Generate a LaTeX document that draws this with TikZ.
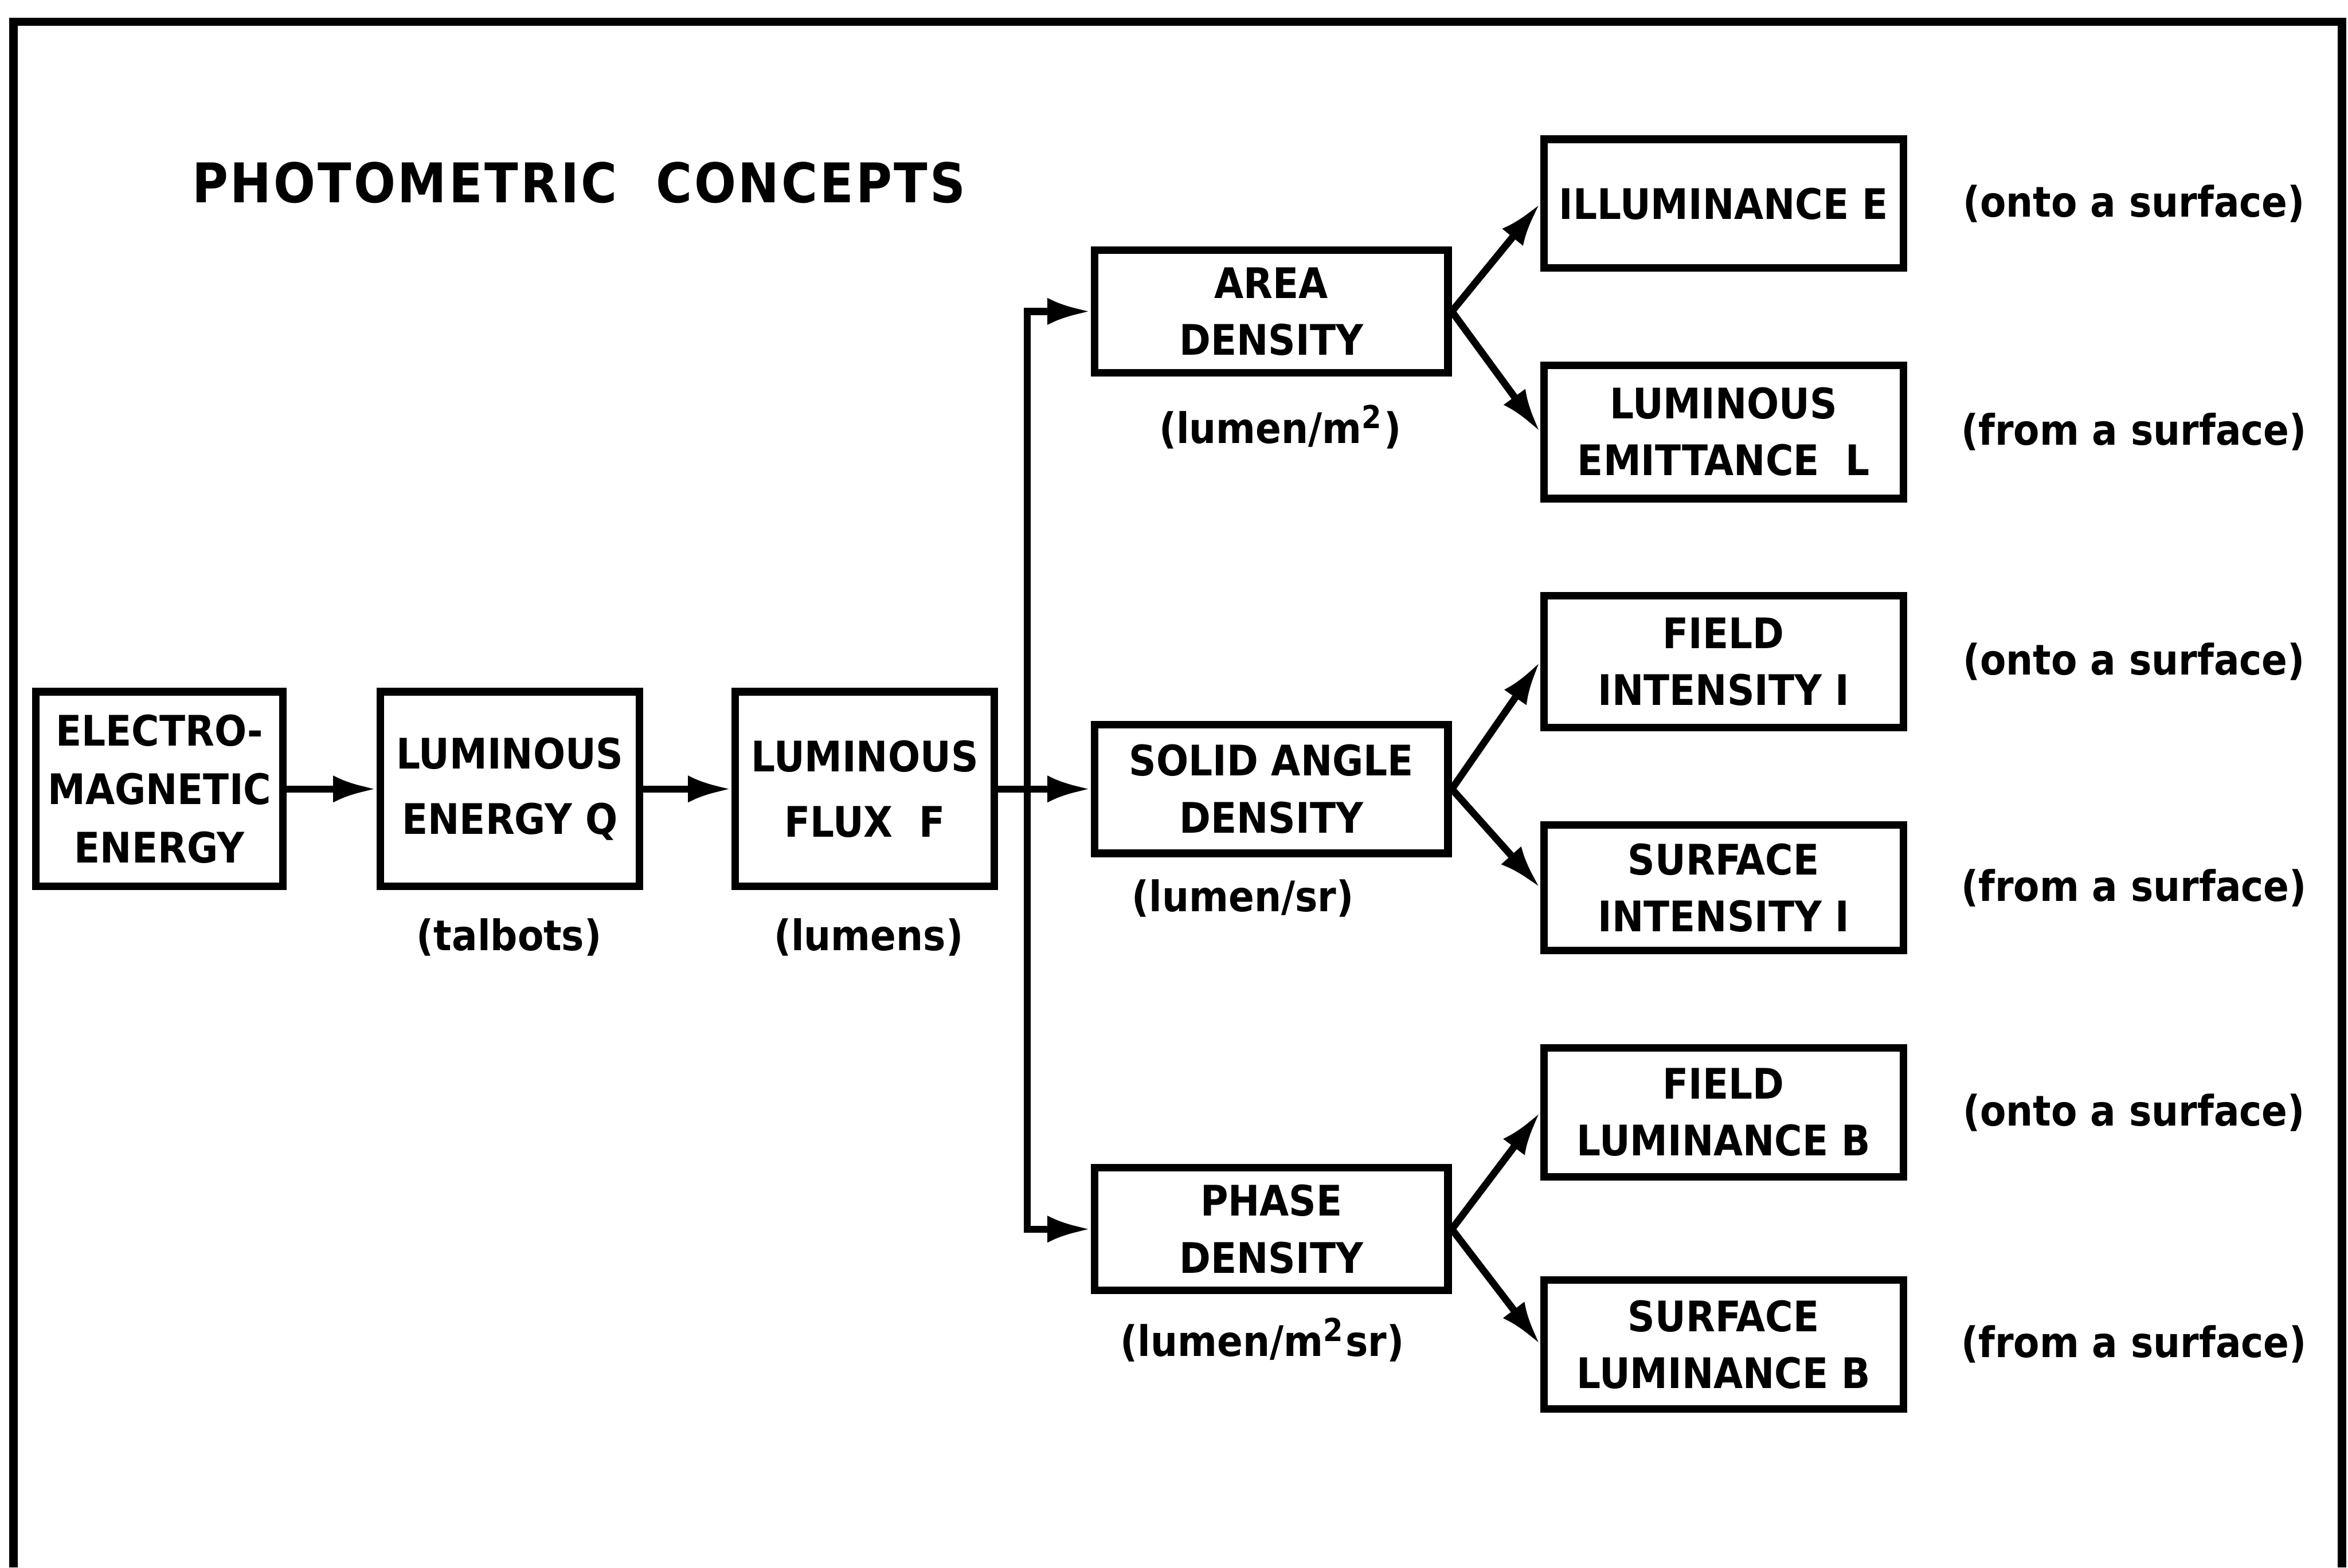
\documentclass[tikz,border=0pt]{standalone}
\usepackage{fontspec}
\setmainfont{DejaVu Sans}
\newfontfamily\lettering{DejaVu Sans Condensed}
\newfontfamily\titlelettering{DejaVu Sans Condensed}[LetterSpace=4]
\usetikzlibrary{arrows.meta, positioning}

\begin{document}
\begin{tikzpicture}[
  block/.style={draw, line width=1.45pt, align=center, inner sep=0pt,
                font=\lettering\bfseries\fontsize{8}{10.8}\selectfont},
  unit/.style={font=\lettering\bfseries\fontsize{8}{10}\selectfont},
  title/.style={font=\titlelettering\bfseries\fontsize{10.4}{12}\selectfont},
  arr/.style={line width=1.35pt, -{Latex[length=2.9mm, width=1.8mm]}},
  frame/.style={line width=1.6pt}
]

\useasboundingbox (0,0) rectangle (15.68,-10.47);

\def\colD{8.49}   % x of density column
\def\colO{11.51}  % x of output column
\def\colU{14.25}  % x of surface notes

% --- Frame (open at the bottom) ---
\draw[frame] (0.09,-10.47) -- (0.09,-0.145) -- (15.64,-0.145) -- (15.64,-10.47);

% --- Title ---
\node[title] (T) at (3.865,-1.22) {PHOTOMETRIC\ \ CONCEPTS};

% --- Source chain ---
\node[block, minimum width=1.65cm, minimum height=1.30cm] (EM) at (1.065,-5.27)
  {ELECTRO-\\[0.3pt]MAGNETIC\\[0.3pt]ENERGY};
\node[block, minimum width=1.73cm, minimum height=1.30cm] (LQ) at (3.405,-5.27)
  {LUMINOUS\\[1.7pt]ENERGY Q};
\node[block, minimum width=1.73cm, minimum height=1.30cm] (LF) at (5.775,-5.27)
  {LUMINOUS\\[1.7pt]FLUX\ \ F};

\node[unit] (LQu) at (3.40,-6.26) {(talbots)};
\node[unit] (LFu) at (5.80,-6.26) {(lumens)};

% --- Density column ---
\foreach \n/\y/\h/\txt in {AD/-2.08/0.82/{AREA\\DENSITY},
                           SAD/-5.27/0.86/{SOLID ANGLE\\DENSITY},
                           PD/-8.21/0.82/{PHASE\\DENSITY}}{
  \node[block, minimum width=2.36cm, minimum height=\h cm] (\n) at (\colD,\y) {\txt};
}

\node[unit] (ADu) at (8.55,-2.85) {(lumen/m\textsuperscript{2})};
\node[unit] (SADu) at (8.30,-6.00) {(lumen/sr)};
\node[unit] (PDu) at (8.43,-8.95) {(lumen/m\textsuperscript{2}sr)};

% --- Output column + surface notes ---
\foreach \n/\y/\h/\txt/\side in {IL/-1.36/0.86/{ILLUMINANCE E}/onto,
                                 LEM/-2.885/0.89/{LUMINOUS\\EMITTANCE\ \ L}/from,
                                 FI/-4.42/0.88/{FIELD\\INTENSITY I}/onto,
                                 SI/-5.93/0.84/{SURFACE\\INTENSITY I}/from,
                                 FL/-7.43/0.86/{FIELD\\LUMINANCE B}/onto,
                                 SL/-8.98/0.86/{SURFACE\\LUMINANCE B}/from}{
  \node[block, minimum width=2.40cm, minimum height=\h cm] (\n) at (\colO,\y) {\txt};
  \node[unit] (\n-u) at (\colU,\y) {(\side\ a surface)};
}

% --- Connectors ---
\coordinate (bus) at (6.86,-5.27);
\draw[arr] (EM) -- (LQ);
\draw[arr] (LQ) -- (LF);
\draw[arr] (LF) -- (SAD);
\draw[arr] (bus) |- (AD);
\draw[arr] (bus) |- (PD);

\foreach \s/\a/\b in {AD/IL/LEM, SAD/FI/SI, PD/FL/SL}{
  \draw[arr] (\s.east) -- (\a.west);
  \draw[arr] (\s.east) -- (\b.west);
}

\end{tikzpicture}
\end{document}
